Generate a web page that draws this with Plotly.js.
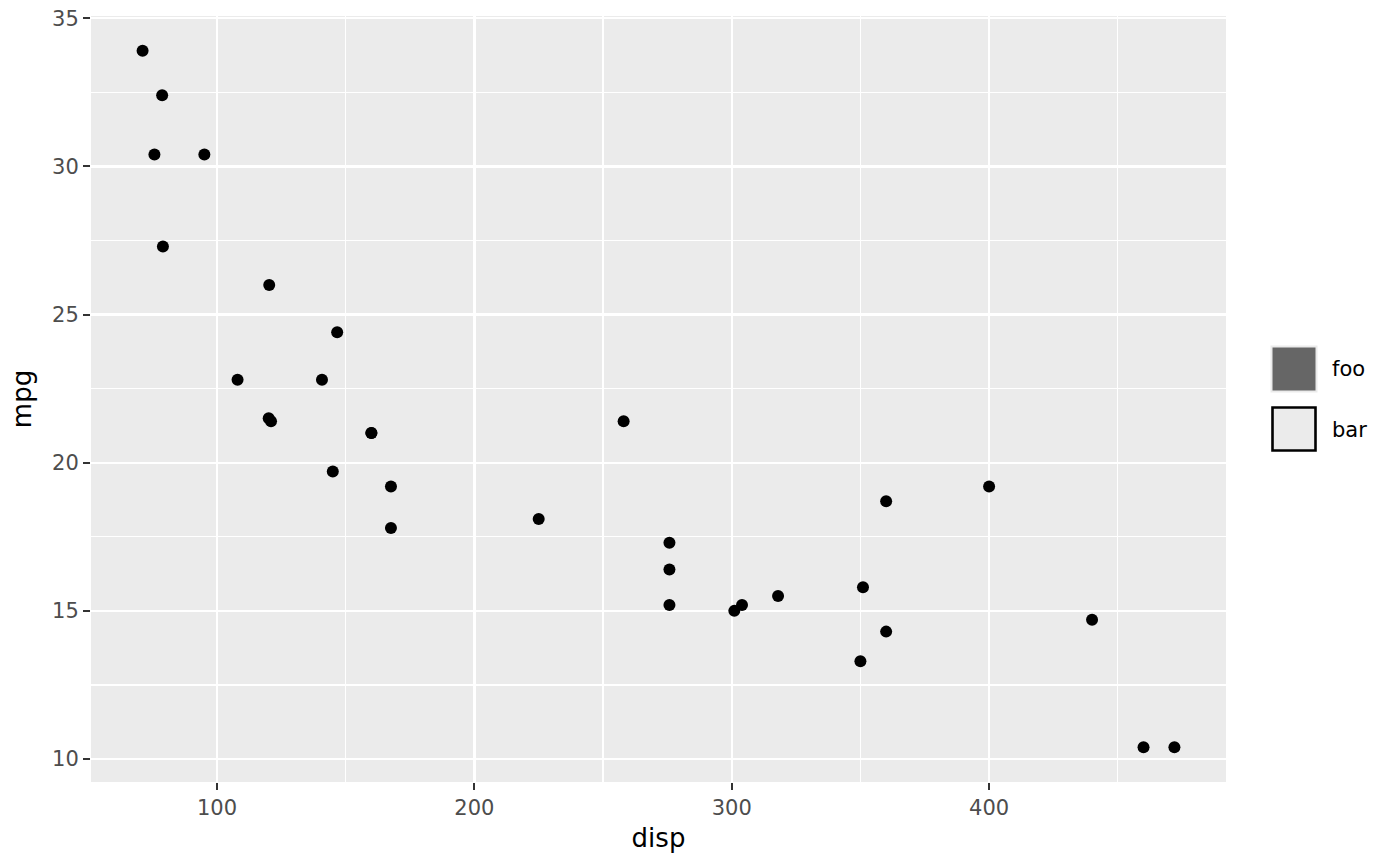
<!DOCTYPE html>
<html>
<head>
<meta charset="utf-8">
<script src="https://cdn.plot.ly/plotly-3.0.1.min.js"></script>
<style>html,body{margin:0;padding:0;background:#fff;}#chart{width:1400px;height:866px;}</style>
</head>
<body>
<div id="chart"></div>
<script>
// mtcars: disp vs mpg
const disp = [160, 160, 108, 258, 360, 225, 360, 146.7, 140.8, 167.6, 167.6, 275.8, 275.8, 275.8, 472, 460, 440, 78.7, 75.7, 71.1, 120.1, 318, 304, 350, 400, 79, 120.3, 95.1, 351, 145, 301, 121];
const mpg = [21.0, 21.0, 22.8, 21.4, 18.7, 18.1, 14.3, 24.4, 22.8, 19.2, 17.8, 16.4, 17.3, 15.2, 10.4, 10.4, 14.7, 32.4, 30.4, 33.9, 21.5, 15.5, 15.2, 13.3, 19.2, 27.3, 26.0, 30.4, 15.8, 19.7, 15.0, 21.4];
const legendLabels = ["foo", "bar"];
const xTicks = [100, 200, 300, 400];
const yTicks = [10, 15, 20, 25, 30, 35];

const font = "DejaVu Sans, sans-serif";

const trace = {
  x: disp, y: mpg, type: "scatter", mode: "markers",
  marker: {color: "#000000", size: 12, line: {width: 0}},
  showlegend: false, hoverinfo: "skip"
};

// legend keys (paper coords; plot area 91..1226 x, 16..782 y)
const W = 1135, H = 766, L = 91, T = 16;
function px(x) { return (x - L) / W; }
function py(y) { return 1 - (y - T) / H; }

const shapes = [
  {type: "rect", xref: "paper", yref: "paper", x0: px(1271.5), x1: px(1316.5), y0: py(391.5), y1: py(346.5),
   fillcolor: "#666666", line: {color: "#ebebeb", width: 2}},
  {type: "rect", xref: "paper", yref: "paper", x0: px(1272.5), x1: px(1315.5), y0: py(450.5), y1: py(407.5),
   fillcolor: "#ebebeb", line: {color: "#000000", width: 2.6}}
];
const annotations = [
  {xref: "paper", yref: "paper", x: px(1330), y: py(369), text: legendLabels[0], showarrow: false,
   xanchor: "left", yanchor: "middle", font: {family: font, size: 21, color: "#000"}},
  {xref: "paper", yref: "paper", x: px(1330), y: py(430), text: legendLabels[1], showarrow: false,
   xanchor: "left", yanchor: "middle", font: {family: font, size: 21, color: "#000"}}
];

const layout = {
  width: 1400, height: 866,
  margin: {l: 91, r: 174, t: 16, b: 84, pad: 0},
  paper_bgcolor: "#ffffff", plot_bgcolor: "#ebebeb",
  font: {family: font},
  showlegend: false,
  xaxis: {
    range: [51.055, 492.045], tickvals: xTicks, ticktext: xTicks.map(String),
    showgrid: true, gridcolor: "#ffffff", gridwidth: 2.4, zeroline: false, showline: false,
    ticks: "outside", ticklen: 7, tickwidth: 2, tickcolor: "#333333",
    tickfont: {family: font, size: 21, color: "#4d4d4d"},
    minor: {dtick: 50, tick0: 50, showgrid: true, gridcolor: "#ffffff", gridwidth: 1.2, ticks: ""},
    title: {text: "disp", font: {family: font, size: 26, color: "#000"}, standoff: 9}
  },
  yaxis: {
    range: [9.225, 35.075], tickvals: yTicks, ticktext: yTicks.map(String),
    showgrid: true, gridcolor: "#ffffff", gridwidth: 2.4, zeroline: false, showline: false,
    ticks: "outside", ticklen: 7, tickwidth: 2, tickcolor: "#333333",
    tickfont: {family: font, size: 21, color: "#4d4d4d"},
    minor: {dtick: 2.5, tick0: 7.5, showgrid: true, gridcolor: "#ffffff", gridwidth: 1.2, ticks: ""},
    title: {text: "mpg", font: {family: font, size: 26, color: "#000"}, standoff: 12}
  },
  shapes: shapes,
  annotations: annotations
};

Plotly.newPlot("chart", [trace], layout, {displayModeBar: false, staticPlot: true});
</script>
</body>
</html>
